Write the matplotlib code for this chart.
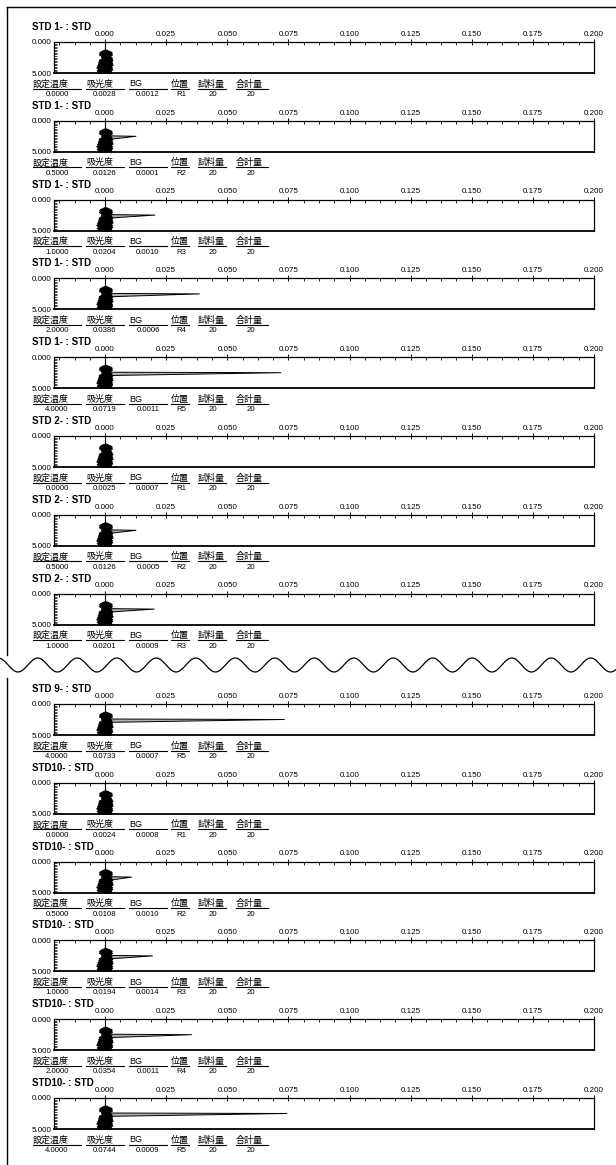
import numpy as np
import matplotlib
matplotlib.use("Agg")
import matplotlib.pyplot as plt
from matplotlib.ticker import MultipleLocator, FixedLocator
from matplotlib.lines import Line2D

plt.rcParams['font.family'] = ['Liberation Sans', 'Noto Sans CJK JP', 'DejaVu Sans']

# ---- data ----
titles = ["STD 1- : STD"] * 5 + ["STD 2- : STD"] * 3 + ["STD 9- : STD"] + ["STD10- : STD"] * 5
conc = ["0.0000", "0.5000", "1.0000", "2.0000", "4.0000",
        "0.0000", "0.5000", "1.0000",
        "4.0000",
        "0.0000", "0.5000", "1.0000", "2.0000", "4.0000"]
absorb = [0.0028, 0.0126, 0.0204, 0.0386, 0.0719,
          0.0025, 0.0126, 0.0201,
          0.0733,
          0.0024, 0.0108, 0.0194, 0.0354, 0.0744]
bg = [0.0012, 0.0001, 0.0010, 0.0006, 0.0011,
      0.0007, 0.0005, 0.0009,
      0.0007,
      0.0008, 0.0010, 0.0014, 0.0011, 0.0009]
position = ["R1", "R2", "R3", "R4", "R5", "R1", "R2", "R3",
            "R5", "R1", "R2", "R3", "R4", "R5"]
sample_vol = ["20"] * 14
total_vol = ["20"] * 14
headers = ["設定温度", "吸光度", "BG", "位置", "試料量", "合計量"]

# baseline noise envelope of the signal (time s, absorbance)
blob_t = [1.25, 1.4, 1.55, 1.7, 1.85, 2.0, 2.15, 2.3, 2.45, 2.6, 2.75, 2.9, 3.05,
          3.2, 3.35, 3.5, 3.65, 3.8, 3.95, 4.1, 4.25, 4.4, 4.55, 4.7, 4.85, 5.0]
blob_lo = [-0.0004, -0.0012, -0.0020, -0.0024, -0.0021, -0.0025, -0.0019, -0.0014,
           -0.0016, -0.0012, -0.0020, -0.0026, -0.0022, -0.0028, -0.0024, -0.0030,
           -0.0027, -0.0033, -0.0029, -0.0036, -0.0031, -0.0027, -0.0034, -0.0030,
           -0.0026, -0.0022]
blob_hi = [0.0005, 0.0013, 0.0022, 0.0027, 0.0023, 0.0028, 0.0024, 0.0018,
           0.0021, 0.0026, 0.0023, 0.0030, 0.0027, 0.0024, 0.0029, 0.0025,
           0.0031, 0.0026, 0.0022, 0.0028, 0.0024, 0.0029, 0.0025, 0.0021,
           0.0026, 0.0023]
spike_t = [2.42, 2.5, 2.95]

W, H = 616, 1165
fig = plt.figure(figsize=(W / 100, H / 100), dpi=100)

def fx(x):
    return x / W

def fy(y):
    return 1 - y / H

def hline(x0, x1, y, lw=0.8):
    fig.add_artist(Line2D([fx(x0), fx(x1)], [fy(y), fy(y)], transform=fig.transFigure,
                          color='black', lw=lw))

# page border
hline(7, W, 7, lw=1.0)
fig.add_artist(Line2D([fx(7), fx(7)], [fy(7), fy(655)], transform=fig.transFigure, color='black', lw=1.0))
fig.add_artist(Line2D([fx(7), fx(7)], [fy(678), fy(H)], transform=fig.transFigure, color='black', lw=1.0))

# wavy break line
wx = np.linspace(0, W, 600)
wy = 665 + 7 * np.cos(2 * np.pi * (wx - 18) / 39.5)
fig.add_artist(Line2D(fx(wx), fy(wy), transform=fig.transFigure, color='black', lw=0.9))

head_x = [33, 86, 129, 171, 198, 236]
uline = [(33, 81), (86, 124), (129, 167), (171, 189), (198, 226), (236, 268)]
val_x = [57, 105, 148, 181, 213, 251]

step = 78.8
for i in range(14):
    top = 42 + i * step if i < 8 else 704 + (i - 8) * step
    ax = fig.add_axes([fx(54), fy(top + 31), 540 / W, 31 / H])
    ax.set_xlim(-0.0209, 0.2)
    ax.set_ylim(5, 0)

    # signal trace
    a = absorb[i]
    ax.plot([0, 0], [0, blob_t[0]], color='black', lw=0.8)
    ax.fill([0.0015, a, 0.003], spike_t, color='#b0b0b0', lw=0)
    ax.plot([0.0015, a, 0.003], spike_t, color='black', lw=0.7)
    ax.fill_betweenx(blob_t, blob_lo, blob_hi, color='black', lw=0.8)

    ax.xaxis.tick_top()
    ax.xaxis.set_major_locator(MultipleLocator(0.025))
    ax.xaxis.set_minor_locator(MultipleLocator(0.00625))
    ax.xaxis.set_major_formatter(matplotlib.ticker.FormatStrFormatter('%.3f'))
    ax.yaxis.set_major_locator(FixedLocator([0, 5]))
    ax.yaxis.set_minor_locator(MultipleLocator(0.25))
    ax.set_yticklabels(['0.000', '5.000'])
    ax.tick_params(axis='x', which='major', direction='inout', length=4, width=0.7,
                   labelsize=5.8, pad=1)
    ax.tick_params(axis='x', which='minor', direction='in', length=2, width=0.6)
    ax.tick_params(axis='y', which='major', direction='in', length=2, width=0.6,
                   labelsize=5.8, pad=2)
    ax.tick_params(axis='y', which='minor', direction='in', length=2, width=0.5)
    for s in ax.spines.values():
        s.set_linewidth(0.9)
    ax.spines['bottom'].set_linewidth(1.3)

    fig.text(fx(32), fy(top - 15), titles[i], fontsize=7, fontweight='bold',
             ha='left', va='center')

    vals = [conc[i], "%.4f" % absorb[i], "%.4f" % bg[i], position[i], sample_vol[i], total_vol[i]]
    for j in range(6):
        fig.text(fx(head_x[j]), fy(top + 42), headers[j], fontsize=6.5, ha='left', va='center')
        hline(uline[j][0], uline[j][1], top + 46.5, lw=0.8)
        fig.text(fx(val_x[j]), fy(top + 52.5), vals[j], fontsize=5.6, ha='center', va='center')

fig.savefig("out.png", dpi=100, facecolor='white')
